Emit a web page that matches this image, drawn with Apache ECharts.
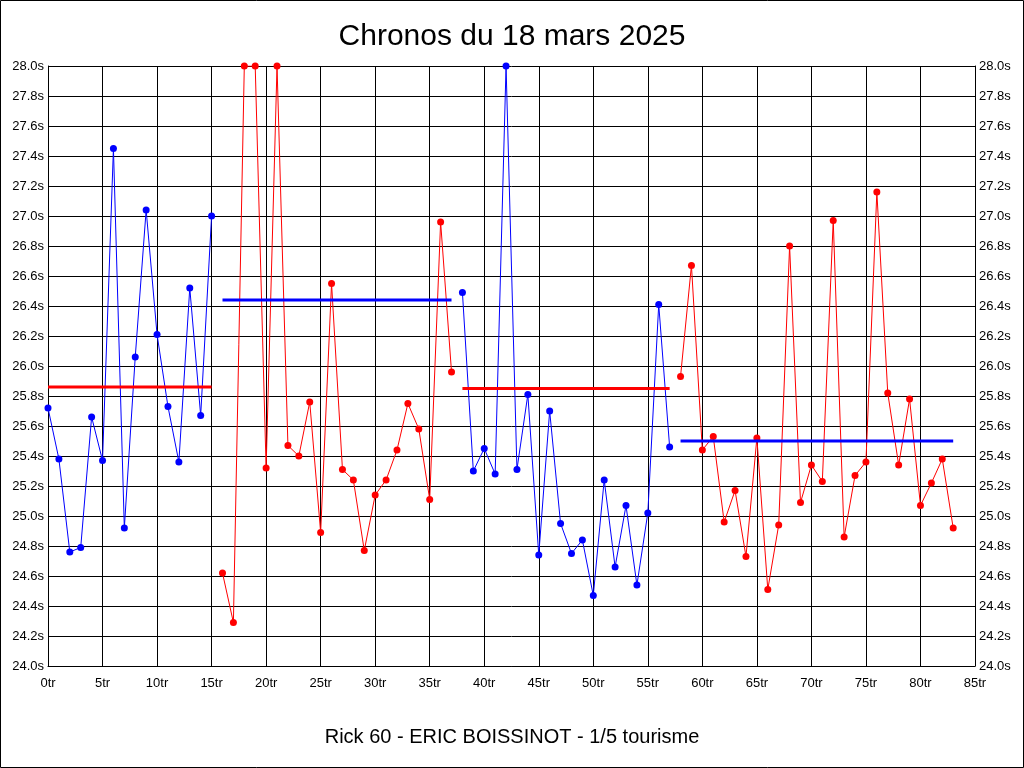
<!DOCTYPE html>
<html>
<head>
<meta charset="utf-8">
<script src="https://cdn.jsdelivr.net/npm/echarts@6/dist/echarts.min.js"></script>
<style>
html,body{margin:0;padding:0;background:#fff;}
#chart{width:1024px;height:768px;}
</style>
</head>
<body>
<div id="chart"></div>
<script>
// Lap times (seconds), lap index = position in array (0tr .. 83tr)
const lapTimes = [
  25.72, 25.38, 24.76, 24.79, 25.66, 25.37, 27.45, 24.92, 26.06, 27.04,
  26.21, 25.73, 25.36, 26.52, 25.67, 27.00, 24.62, 24.29, 28.00, 28.00,
  25.32, 28.00, 25.47, 25.40, 25.76, 24.89, 26.55, 25.31, 25.24, 24.77,
  25.14, 25.24, 25.44, 25.75, 25.58, 25.11, 26.96, 25.96, 26.49, 25.30,
  25.45, 25.28, 28.00, 25.31, 25.81, 24.74, 25.70, 24.95, 24.75, 24.84,
  24.47, 25.24, 24.66, 25.07, 24.54, 25.02, 26.41, 25.46, 25.93, 26.67,
  25.44, 25.53, 24.96, 25.17, 24.73, 25.52, 24.51, 24.94, 26.80, 25.09,
  25.34, 25.23, 26.97, 24.86, 25.27, 25.36, 27.16, 25.82, 25.34, 25.78,
  25.07, 25.22, 25.38, 24.92
];
// Stints: first lap, last lap, colour, average line value
const stintStart = [0, 16, 38, 58];
const stintEnd   = [15, 37, 57, 83];
const stintColor = ['#0000ff', '#ff0000', '#0000ff', '#ff0000'];
const avgColor   = ['#ff0000', '#0000ff', '#ff0000', '#0000ff'];
const stintAvg   = [25.86, 26.44, 25.85, 25.50];
const yTicksMin = 24.0, yTicksMax = 28.0, yStep = 0.2;
const xMax = 85, xStep = 5;

const series = [];
stintStart.forEach((s, i) => {
  const pts = [];
  for (let k = s; k <= stintEnd[i]; k++) pts.push([k, lapTimes[k]]);
  series.push({
    type: 'line', data: pts, yAxisIndex: 0,
    symbol: 'circle', symbolSize: 7, showSymbol: true,
    lineStyle: { color: stintColor[i], width: 1 },
    itemStyle: { color: stintColor[i] },
    z: 3, silent: true
  });
});
stintStart.forEach((s, i) => {
  series.push({
    type: 'line', data: [[s, stintAvg[i]], [stintEnd[i], stintAvg[i]]], yAxisIndex: 0,
    symbol: 'none', lineStyle: { color: avgColor[i], width: 3 },
    z: 4, silent: true
  });
});

const FONT = 'Liberation Sans, Arial, sans-serif';
const yLabel = { color: '#000', fontSize: 13, fontFamily: FONT,
  formatter: v => v.toFixed(1) + 's' };

const chart = echarts.init(document.getElementById('chart'), null, { renderer: 'canvas' });
chart.setOption({
  animation: false,
  backgroundColor: '#fff',
  title: [
    { text: 'Chronos du 18 mars 2025', left: 'center', top: 17,
      textStyle: { fontSize: 30, fontWeight: 'normal', color: '#000', fontFamily: FONT } },
    { text: 'Rick 60 - ERIC BOISSINOT - 1/5 tourisme', left: 'center', top: 722,
      textStyle: { fontSize: 20, fontWeight: 'normal', color: '#000', fontFamily: FONT } }
  ],
  grid: { left: 48, right: 49, top: 66, bottom: 102, containLabel: false },
  xAxis: {
    type: 'value', min: 0, max: xMax, interval: xStep,
    axisLine: { show: true, lineStyle: { color: '#000', width: 1 } },
    axisTick: { show: false },
    splitLine: { show: true, lineStyle: { color: '#000', width: 1 } },
    axisLabel: { color: '#000', fontSize: 13, margin: 11, fontFamily: FONT,
      formatter: v => v + 'tr' }
  },
  yAxis: [
    { type: 'value', min: yTicksMin, max: yTicksMax, interval: yStep, position: 'left',
      axisLine: { show: true, lineStyle: { color: '#000', width: 1 } },
      axisTick: { show: false },
      splitLine: { show: true, lineStyle: { color: '#000', width: 1 } },
      axisLabel: Object.assign({ margin: 4 }, yLabel) },
    { type: 'value', min: yTicksMin, max: yTicksMax, interval: yStep, position: 'right',
      axisLine: { show: true, lineStyle: { color: '#000', width: 1 } },
      axisTick: { show: false },
      splitLine: { show: false },
      axisLabel: Object.assign({ margin: 4 }, yLabel) }
  ],
  graphic: [{
    type: 'rect', shape: { x: 0.5, y: 0.5, width: 1023, height: 767 },
    style: { fill: null, stroke: '#000', lineWidth: 1 }, silent: true, z: 100
  }],
  series: series
});
</script>
</body>
</html>
